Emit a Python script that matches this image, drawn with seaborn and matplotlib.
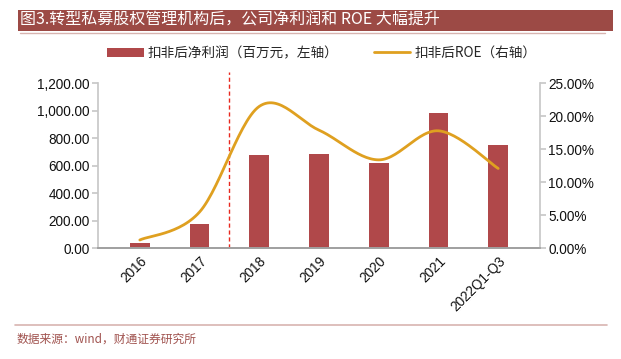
import matplotlib
matplotlib.use("Agg")
import matplotlib.pyplot as plt
import numpy as np
import pandas as pd
import seaborn as sns
from matplotlib.lines import Line2D
from matplotlib.patches import Patch, Rectangle

categories = ["2016", "2017", "2018", "2019", "2020", "2021", "2022Q1-Q3"]
net_profit = [38, 175, 678, 683, 620, 982, 751]  # 百万元
roe = [1.26, 5.5, 21.5, 17.9, 13.4, 17.8, 12.1]  # %
left_ticks = [0, 200, 400, 600, 800, 1000, 1200]
right_ticks = [0, 5, 10, 15, 20, 25]

BAR_COLOR = "#B0484A"
LINE_COLOR = "#DFA020"
TITLE_BG = "#9C4A45"
CJK = ["Noto Sans CJK SC", "DejaVu Sans"]


def smooth_curve(y, steps=30):
    # Excel-style smoothed line: cubic Bezier segments with Catmull-Rom tangents
    y = np.asarray(y, dtype=float)
    x = np.arange(len(y), dtype=float)
    pts = np.column_stack([x, y])
    padded = np.vstack([pts[0], pts, pts[-1]])
    out = []
    t = np.linspace(0, 1, steps)[:, None]
    for i in range(len(pts) - 1):
        p0, p1, p2, p3 = padded[i], padded[i + 1], padded[i + 2], padded[i + 3]
        c1 = p1 + (p2 - p0) / 6
        c2 = p2 - (p3 - p1) / 6
        seg = (1 - t) ** 3 * p1 + 3 * (1 - t) ** 2 * t * c1 + 3 * (1 - t) * t ** 2 * c2 + t ** 3 * p2
        out.append(seg if i == 0 else seg[1:])
    seg = np.vstack(out)
    return seg[:, 0], seg[:, 1]


sns.set_theme(style="white")
plt.rcParams["font.family"] = ["Liberation Sans", "Noto Sans CJK SC", "DejaVu Sans"]

df = pd.DataFrame({"year": categories, "profit": net_profit})

fig = plt.figure(figsize=(6.21, 3.59), dpi=100)
ax = fig.add_axes([98 / 621, 1 - 248.3 / 359, 442 / 621, 165 / 359])

sns.barplot(data=df, x="year", y="profit", color=BAR_COLOR, width=0.33,
            saturation=1, ax=ax, edgecolor="none")
ax.set_ylim(0, 1200)
ax.set_xlim(-0.7, len(categories) - 0.3)
ax.set_yticks(left_ticks)
ax.set_yticklabels([f"{v:,.2f}" for v in left_ticks], fontsize=9.8, color="#111111")
ax.set_xlabel("")
ax.set_ylabel("")
ax.set_xticks(range(len(categories)))
ax.set_xticklabels(categories, rotation=45, ha="right", rotation_mode="anchor",
                   fontsize=9.8, color="#111111")

ax2 = ax.twinx()
sx, sy = smooth_curve(roe)
ax2.plot(sx, sy, color=LINE_COLOR, lw=2)
ax2.set_ylim(0, 25)
ax2.set_yticks(right_ticks)
ax2.set_yticklabels([f"{v:.2f}%" for v in right_ticks], fontsize=9.8, color="#111111")

for a in (ax, ax2):
    a.spines["top"].set_visible(False)
    a.spines["left"].set_visible(False)
    a.spines["right"].set_visible(False)
    a.spines["bottom"].set_color("#A0A0A0")
ax.spines["left"].set_visible(True)
ax.spines["left"].set_color("#C8C8C8")
ax2.spines["right"].set_visible(True)
ax2.spines["right"].set_color("#C8C8C8")
ax.tick_params(axis="y", length=4, color="#C8C8C8", pad=2, left=True)
ax.tick_params(axis="x", length=0, pad=4)
ax2.tick_params(axis="y", length=4, color="#C8C8C8", pad=2, right=True)

# divider between 2017 and 2018
ax.plot([1.5, 1.5], [0, 1285], color="#E8281E", lw=1, ls=(0, (3, 2)), clip_on=False)

# legend
handles = [Patch(facecolor=BAR_COLOR, edgecolor="none"),
           Line2D([0], [0], color=LINE_COLOR, lw=2)]
fig.legend(handles, ["扣非后净利润（百万元，左轴）", "扣非后ROE（右轴）"],
           loc="center", bbox_to_anchor=(0.518, 1 - 53 / 359), ncol=2, frameon=False,
           handlelength=2.7, handleheight=0.6, handletextpad=0.3, columnspacing=2.6,
           prop={"family": CJK, "size": 9.8})

# title banner
fig.patches.append(Rectangle((18 / 621, 1 - 31 / 359), 595 / 621, 21 / 359,
                             transform=fig.transFigure, facecolor=TITLE_BG,
                             edgecolor="none"))
fig.lines.append(Line2D([20 / 621, 605 / 621], [1 - 32.5 / 359] * 2,
                        transform=fig.transFigure, color="#D8B4B0", lw=1))
fig.text(20 / 621, 1 - 20.5 / 359, "图3.转型私募股权管理机构后，公司净利润和 ROE 大幅提升",
         color="white", fontsize=11.5, va="center", ha="left", family=CJK)

# footer
fig.lines.append(Line2D([15 / 621, 607 / 621], [1 - 325 / 359] * 2,
                        transform=fig.transFigure, color="#D8B4B0", lw=1.2))
fig.text(17 / 621, 1 - 339 / 359, "数据来源：wind，财通证券研究所", color="#A0524E",
         fontsize=8.5, va="center", ha="left", family=CJK)

fig.savefig("out.png", dpi=100, facecolor="white")
